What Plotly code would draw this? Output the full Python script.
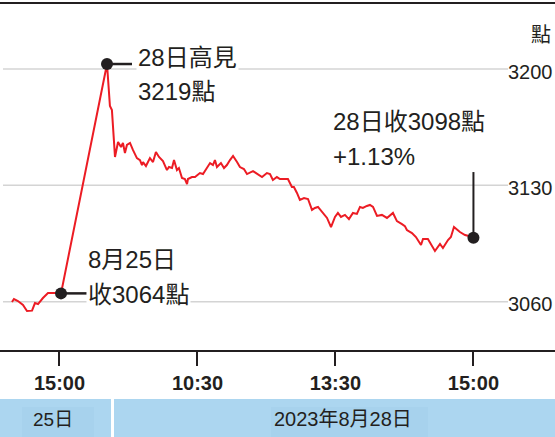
import plotly.graph_objects as go

# ---- data (x = trading minutes relative to 28 Aug 09:30; 25 Aug afternoon at negative offsets)
day25_minutes = [-61, -59.7, -57.1, -53.8, -51.2, -47.9, -46, -44, -40.8, -37.5, -32.9, -29]
day25_values = [3059.8, 3061.6, 3060.4, 3058.0, 3054.4, 3054.6, 3059.2, 3058.6, 3062.2, 3065.2, 3065.2, 3065.0]

day28_minutes = [1, 2.9, 4.2, 6.2, 8.2, 10.1, 11.4, 12.7, 14.0, 16.0, 17.9, 20.5, 22.5, 23.8, 24.5,
                 26.4, 29.0, 31.0, 32.9, 34.9, 37.5, 40.1, 41.4, 43.4, 44.7, 46.6, 47.9, 49.9, 51.8,
                 53.2, 53.8, 56.4, 58.4, 59.7, 61.6, 63.6, 66.2, 68.2, 70.1, 71.4, 72.7, 75.3, 77.3,
                 79.2, 81.2, 83.2, 85.8, 87.7, 90.3, 92.3, 96.2, 98.8, 102.1, 105.3, 107.3, 109.2,
                 111.8, 113.8, 119.0, 121.6, 122.9, 124.9, 126.8, 129.5, 132.1, 134.7, 136.6, 138.6,
                 141.2, 144.5, 147.1, 149.7, 151.6, 153.6, 156.2, 158.8, 161.4, 164.0, 166.0, 167.9,
                 170.5, 172.5, 174.5, 177.1, 180.3, 183.6, 187.5, 190.1, 193.4, 195.3, 196.6, 199.9,
                 202.5, 205.8, 207.1, 210.3, 214.9, 218.2, 220.1, 223.4, 225.3, 227.3, 231.2, 234.5,
                 237.1, 240]
day28_values = [3203.0, 3177.7, 3175.3, 3147.1, 3156.1, 3153.1, 3155.5, 3149.5, 3154.3, 3155.5, 3151.3,
                3146.4, 3145.2, 3142.2, 3144.0, 3141.6, 3146.4, 3144.0, 3150.1, 3147.1, 3144.6, 3139.2,
                3141.0, 3140.4, 3145.2, 3139.2, 3140.4, 3134.4, 3133.8, 3130.8, 3133.8, 3135.0, 3135.0,
                3136.2, 3137.4, 3136.8, 3140.4, 3143.4, 3142.2, 3145.2, 3141.0, 3143.4, 3140.4, 3142.2,
                3145.2, 3147.7, 3144.0, 3141.0, 3139.8, 3136.8, 3138.6, 3136.8, 3135.0, 3137.4, 3136.8,
                3133.2, 3135.0, 3133.8, 3133.8, 3129.0, 3129.0, 3125.4, 3121.2, 3122.4, 3121.8, 3115.2,
                3116.4, 3117.0, 3114.0, 3110.4, 3104.9, 3111.0, 3113.4, 3111.0, 3112.2, 3109.7, 3113.4,
                3112.8, 3117.0, 3116.4, 3117.6, 3118.2, 3117.0, 3111.6, 3112.2, 3110.4, 3113.4, 3108.5,
                3106.7, 3105.5, 3103.1, 3101.3, 3098.9, 3094.1, 3097.7, 3097.7, 3090.5, 3094.7, 3092.3,
                3097.1, 3098.9, 3104.9, 3101.9, 3100.1, 3099.5, 3098.5]

tick_positions = [-30, 60, 150, 240]
tick_labels = ["15:00", "10:30", "13:30", "15:00"]
y_ticks = [3060, 3130, 3200]
y_unit = "點"

key_minutes = [-29, 1, 240]
key_values = [3065.0, 3203.0, 3098.5]

label_25 = ["8月25日", "收3064點"]
label_high = ["28日高見", "3219點"]
label_close = ["28日收3098點", "+1.13%"]
band_labels = ["25日", "2023年8月28日"]

# ---- styling
RED = "#ec1c24"
INK = "#231f20"
GRID = "#d4d4d4"
BAND = "#acd6f0"
BOX = "#a7d2ed"
TXT_FONT = "Liberation Sans, Arial, Noto Sans CJK TC, sans-serif"
NARROW = "Liberation Sans Narrow, Arial Narrow, Liberation Sans, sans-serif"

W, H = 555, 437
PLOT_H = 350
XR = [-68.8, 293.2]
YR = [3030.93, 3241.52]


def py_to_paper(py):
    return (PLOT_H - py) / PLOT_H


fig = go.Figure()

fig.add_trace(go.Scatter(
    x=day25_minutes + day28_minutes,
    y=day25_values + day28_values,
    mode="lines",
    line=dict(color=RED, width=2),
    hoverinfo="skip",
    showlegend=False,
))

shapes = []
# gridlines
for v in y_ticks:
    shapes.append(dict(type="line", xref="paper", yref="y", x0=3 / W, x1=508 / W, y0=v, y1=v,
                       line=dict(color=GRID, width=1.5), layer="below"))
# top border
shapes.append(dict(type="line", xref="paper", yref="paper", x0=0, x1=1,
                   y0=py_to_paper(3), y1=py_to_paper(3), line=dict(color=INK, width=2)))
# leader lines
shapes.append(dict(type="line", xref="x", yref="y", x0=key_minutes[0], x1=-12.1,
                   y0=key_values[0], y1=key_values[0], line=dict(color=INK, width=2.5)))
shapes.append(dict(type="line", xref="x", yref="y", x0=key_minutes[1], x1=17.3,
                   y0=key_values[1], y1=key_values[1], line=dict(color=INK, width=2.5)))
shapes.append(dict(type="line", xref="x", yref="y", x0=key_minutes[2], x1=key_minutes[2],
                   y0=key_values[2], y1=3138.0, line=dict(color=INK, width=2)))
# blue date band
shapes.append(dict(type="rect", xref="paper", yref="paper", x0=0, x1=111 / W,
                   y0=py_to_paper(437), y1=py_to_paper(399), fillcolor=BAND, line=dict(width=0)))
shapes.append(dict(type="rect", xref="paper", yref="paper", x0=114 / W, x1=1,
                   y0=py_to_paper(437), y1=py_to_paper(399), fillcolor=BAND, line=dict(width=0)))
shapes.append(dict(type="rect", xref="paper", yref="paper", x0=22 / W, x1=94 / W,
                   y0=py_to_paper(437), y1=py_to_paper(407), fillcolor=BOX, line=dict(width=0)))
shapes.append(dict(type="rect", xref="paper", yref="paper", x0=271 / W, x1=428 / W,
                   y0=py_to_paper(437), y1=py_to_paper(407), fillcolor=BOX, line=dict(width=0)))

fig.add_trace(go.Scatter(
    x=key_minutes, y=key_values, mode="markers",
    marker=dict(color=INK, size=12),
    hoverinfo="skip", showlegend=False, cliponaxis=False,
))

annotations = []


def add_text(text, x, y, size=24, xanchor="left", xref="x", yref="y", bg="white", font=TXT_FONT):
    annotations.append(dict(text=text, x=x, y=y, xref=xref, yref=yref, xanchor=xanchor,
                            yanchor="middle", showarrow=False, bgcolor=bg, borderpad=1,
                            font=dict(family=font, size=size, color=INK)))


add_text(label_high[0], 20.0, 3207.2)
add_text(label_high[1], 20.0, 3186.2)
add_text(label_25[0], -13.0, 3085.1)
add_text(label_25[1], -13.0, 3064.6)
add_text(label_close[0], 147.0, 3168.7)
add_text(label_close[1], 147.0, 3147.1)

for v in y_ticks:
    add_text(str(v), 1.0, v - 1.5, size=20, xanchor="right", xref="paper", bg=None, font=NARROW)
add_text(y_unit, 529 / W, 3220.5, size=20, xref="paper", bg=None)

add_text(band_labels[0], 53 / W, py_to_paper(419), size=19, xanchor="center",
         xref="paper", yref="paper", bg=None)
add_text(band_labels[1], 342.5 / W, py_to_paper(419), size=20, xanchor="center",
         xref="paper", yref="paper", bg=None)

fig.update_layout(
    width=W, height=H,
    margin=dict(l=0, r=0, t=0, b=H - PLOT_H, pad=0),
    paper_bgcolor="white", plot_bgcolor="white",
    shapes=shapes, annotations=annotations,
    showlegend=False,
    xaxis=dict(range=XR, tickvals=tick_positions, ticktext=tick_labels, showgrid=False,
               zeroline=False, showline=True, linecolor=INK, linewidth=2,
               ticks="outside", ticklen=14, tickwidth=2, tickcolor=INK,
               tickfont=dict(family=NARROW, size=20, color=INK, weight="bold"),
               ticklabelstandoff=0, fixedrange=True),
    yaxis=dict(range=YR, visible=False, showgrid=False, zeroline=False, fixedrange=True),
)

fig.write_html("out.html")
